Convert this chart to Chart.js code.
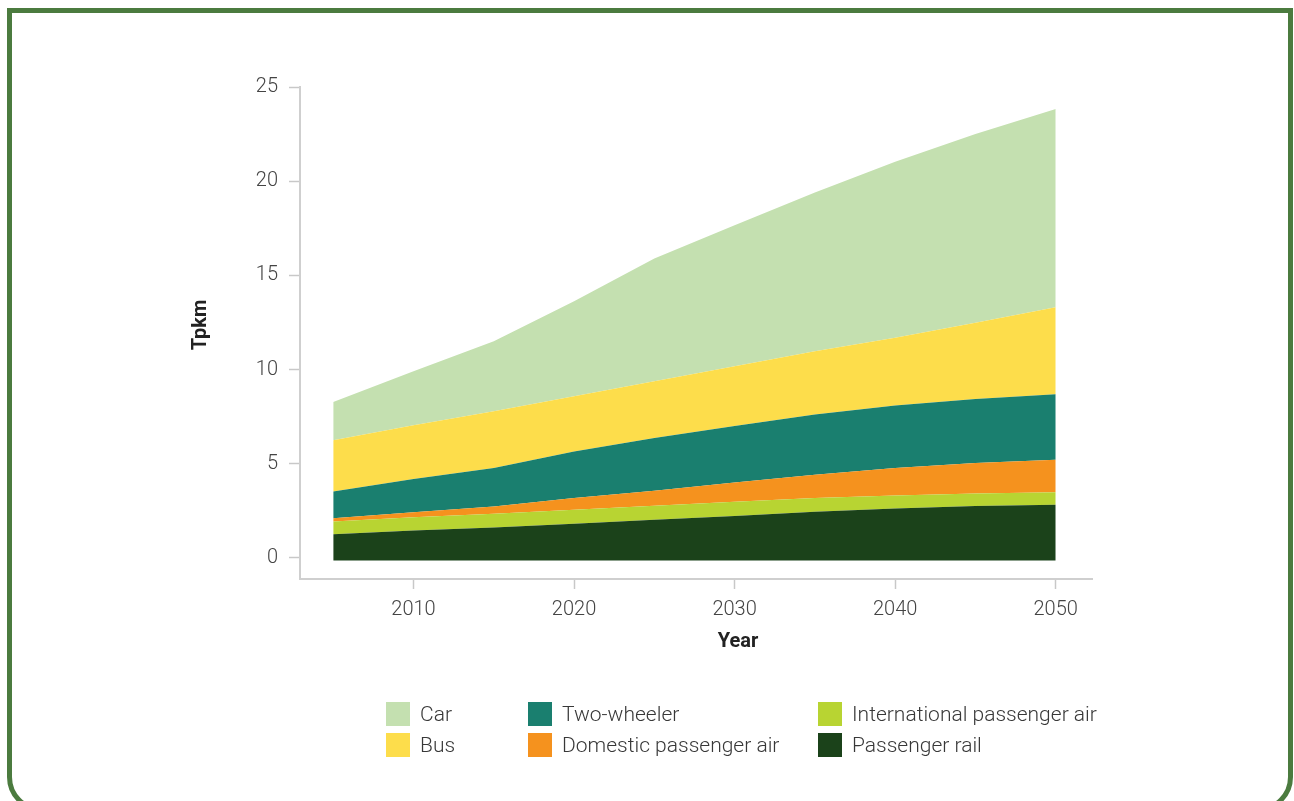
<!DOCTYPE html>
<html>
<head>
<meta charset="utf-8">
<script src="https://cdn.jsdelivr.net/npm/chart.js@4.4.1/dist/chart.umd.min.js"></script>
<style>
  html, body { margin: 0; padding: 0; background: #fff; }
  body { width: 1294px; height: 801px; position: relative; overflow: hidden; font-family: Roboto, "Noto Sans", sans-serif; }
  .frame { position: absolute; left: 7px; top: 8px; width: 1286px; height: 804px; box-sizing: border-box; border: 5px solid #4b7b3f; border-radius: 0 0 35px 35px; }
  #chart { position: absolute; left: 0; top: 0; }
  .item { position: absolute; display: flex; align-items: center; height: 24px; font-size: 21px; font-weight: 300; color: #383838; white-space: nowrap; }
  .item i { display: inline-block; width: 24px; height: 24px; margin-right: 10px; }
</style>
</head>
<body>
<div class="frame"></div>
<canvas id="chart" width="1294" height="801"></canvas>
<div id="legend"></div>
<script>
(function () {

  // stacked series, bottom to top (Tpkm)
  const years = [2005, 2010, 2015, 2020, 2025, 2030, 2035, 2040, 2045, 2050];
  const passengerRail = [1.26, 1.45, 1.61, 1.81, 2.02, 2.22, 2.45, 2.62, 2.75, 2.82];
  const intlAir = [0.67, 0.71, 0.73, 0.74, 0.75, 0.76, 0.73, 0.69, 0.67, 0.67];
  const domesticAir = [0.18, 0.27, 0.39, 0.63, 0.79, 1.02, 1.23, 1.46, 1.62, 1.72];
  const twoWheeler = [1.42, 1.76, 2.04, 2.47, 2.81, 3.00, 3.20, 3.32, 3.40, 3.48];
  const bus = [2.71, 2.85, 3.01, 2.93, 3.01, 3.18, 3.36, 3.60, 4.04, 4.62];
  const car = [2.04, 2.87, 3.72, 5.05, 6.51, 7.48, 8.43, 9.34, 10.02, 10.52];

  const xTicks = [2010, 2020, 2030, 2040, 2050];
  const yTicks = [0, 5, 10, 15, 20, 25];
  const baseline = -0.14;

  const series = [
    { label: 'Passenger rail', values: passengerRail, color: '#1b421a' },
    { label: 'International passenger air', values: intlAir, color: '#b8d432' },
    { label: 'Domestic passenger air', values: domesticAir, color: '#f5921e' },
    { label: 'Two-wheeler', values: twoWheeler, color: '#1a7f6f' },
    { label: 'Bus', values: bus, color: '#fddd4b' },
    { label: 'Car', values: car, color: '#c4e0b0' }
  ];

  const datasets = series.map((s, i) => ({
    label: s.label,
    data: years.map((yr, j) => ({ x: yr, y: s.values[j] })),
    backgroundColor: s.color,
    borderColor: s.color,
    borderWidth: 0,
    pointRadius: 0,
    fill: i === 0 ? { value: baseline } : '-1'
  }));

  const tickFont = { family: 'Roboto', size: 20, weight: '300' };

  const axisTitles = {
    id: 'axisTitles',
    afterDraw(chart) {
      const ctx = chart.ctx;
      ctx.save();
      ctx.fillStyle = '#222';
      ctx.font = 'bold 20px Roboto';
      ctx.textAlign = 'center';
      ctx.textBaseline = 'middle';
      ctx.fillText('Year', 738, 642);
      ctx.translate(201, 325);
      ctx.rotate(-Math.PI / 2);
      ctx.fillText('Tpkm', 0, 0);
      ctx.restore();
    }
  };

  const chart = new Chart(document.getElementById('chart'), {
    type: 'line',
    data: { datasets: datasets },
    options: {
      responsive: false,
      animation: false,
      layout: { padding: { left: 190, top: 87, right: 202, bottom: 150 } },
      plugins: { legend: { display: false }, tooltip: { enabled: false } },
      elements: { line: { tension: 0 } },
      scales: {
        x: {
          type: 'linear',
          min: 2002.93,
          max: 2052.26,
          afterBuildTicks: function (scale) { scale.ticks = xTicks.map(v => ({ value: v })); },
          afterFit: function (scale) { scale.height = 72; },
          grid: { drawOnChartArea: false, tickLength: 10, tickColor: '#c8c8c8', tickWidth: 1.5 },
          border: { color: '#cfcfcf', width: 2 },
          ticks: { padding: 9, color: '#444', font: tickFont, maxRotation: 0, callback: v => String(v) }
        },
        y: {
          stacked: true,
          min: -1.12,
          max: 25,
          afterBuildTicks: function (scale) { scale.ticks = yTicks.map(v => ({ value: v })); },
          afterFit: function (scale) { scale.width = 110; },
          grid: { drawOnChartArea: false, tickLength: 11, tickColor: '#c8c8c8', tickWidth: 1.5 },
          border: { color: '#cfcfcf', width: 2 },
          ticks: { padding: 11, color: '#444', font: tickFont, callback: v => String(v) }
        }
      }
    },
    plugins: [axisTitles]
  });

  // html legend, 3 columns x 2 rows, top layer first
  const cols = [386, 528, 818];
  const rows = [702, 733];
  const legend = document.getElementById('legend');
  chart.data.datasets.slice().reverse().forEach((ds, i) => {
    const el = document.createElement('div');
    el.className = 'item';
    el.style.left = cols[Math.floor(i / 2)] + 'px';
    el.style.top = rows[i % 2] + 'px';
    el.innerHTML = '<i style="background:' + ds.backgroundColor + '"></i><span></span>';
    el.querySelector('span').textContent = ds.label;
    legend.appendChild(el);
  });

})();
</script>
</body>
</html>
